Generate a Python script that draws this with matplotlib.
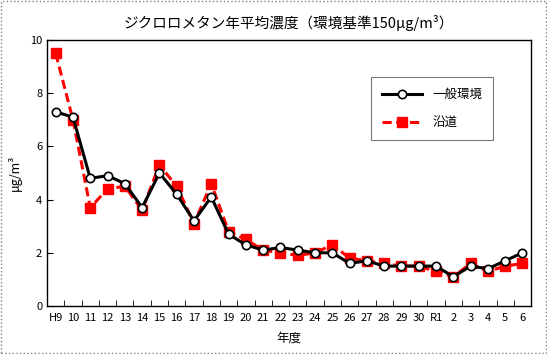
import matplotlib.pyplot as plt
from matplotlib.patches import Rectangle

plt.rcParams['font.family'] = ['Noto Sans CJK JP', 'DejaVu Sans']

# 年度
years = ["H9", "10", "11", "12", "13", "14", "15", "16", "17", "18", "19", "20",
         "21", "22", "23", "24", "25", "26", "27", "28", "29", "30", "R1",
         "2", "3", "4", "5", "6"]

# 一般環境
general = [7.3, 7.1, 4.8, 4.9, 4.6, 3.7, 5.0, 4.2, 3.2, 4.1, 2.7, 2.3,
           2.1, 2.2, 2.1, 2.0, 2.0, 1.6, 1.7, 1.5, 1.5, 1.5, 1.5,
           1.1, 1.5, 1.4, 1.7, 2.0]

# 沿道
roadside = [9.5, 7.0, 3.7, 4.4, 4.5, 3.6, 5.3, 4.5, 3.1, 4.6, 2.8, 2.5,
            2.1, 2.0, 1.9, 2.0, 2.3, 1.8, 1.7, 1.6, 1.5, 1.5, 1.3,
            1.1, 1.6, 1.3, 1.5, 1.6]

x = list(range(len(years)))

fig = plt.figure(figsize=(5.47, 3.54), dpi=100)
ax = fig.add_axes([0.086, 0.1356, 0.885, 0.7514])

ax.plot(x, general, color="black", linewidth=2.2, marker="o", markersize=6,
        markerfacecolor="white", markeredgecolor="black", markeredgewidth=1.2,
        label="一般環境", zorder=3)
ax.plot(x, roadside, color="#ff0000", linewidth=2.2, linestyle=(0, (3, 1.5)),
        marker="s", markersize=6.5, markerfacecolor="#ff0000",
        markeredgecolor="#ff0000", label="沿道", zorder=2)

ax.set_xlim(-0.5, len(years) - 0.5)
ax.set_ylim(0, 10)
ax.set_yticks([0, 2, 4, 6, 8, 10])
ax.set_xticks(x)
ax.set_xticklabels(years)
ax.set_xticks([i - 0.5 for i in range(1, len(years))], minor=True)
ax.tick_params(axis="x", which="major", length=0, labelsize=8, pad=5)
ax.tick_params(axis="x", which="minor", direction="in", length=4)
ax.tick_params(axis="y", direction="in", length=4, labelsize=8)

for s in ax.spines.values():
    s.set_linewidth(1.0)

ax.set_title("ジクロロメタン年平均濃度（環境基準150μg/m³）", fontsize=10.5, pad=9)
ax.set_xlabel("年度", fontsize=9, labelpad=6)
ax.set_ylabel("μg/m³", fontsize=9, labelpad=6)

leg = ax.legend(loc="upper left", bbox_to_anchor=(0.656, 0.885), fontsize=9,
                frameon=True, fancybox=False, edgecolor="#555555",
                handlelength=3.2, borderpad=0.9, labelspacing=1.2)
leg.get_frame().set_linewidth(0.8)

fig.patches.append(Rectangle((0.002, 0.003), 0.996, 0.994, transform=fig.transFigure,
                             fill=False, edgecolor="gray", linestyle=":", linewidth=1))

fig.savefig("out.png", dpi=100)
